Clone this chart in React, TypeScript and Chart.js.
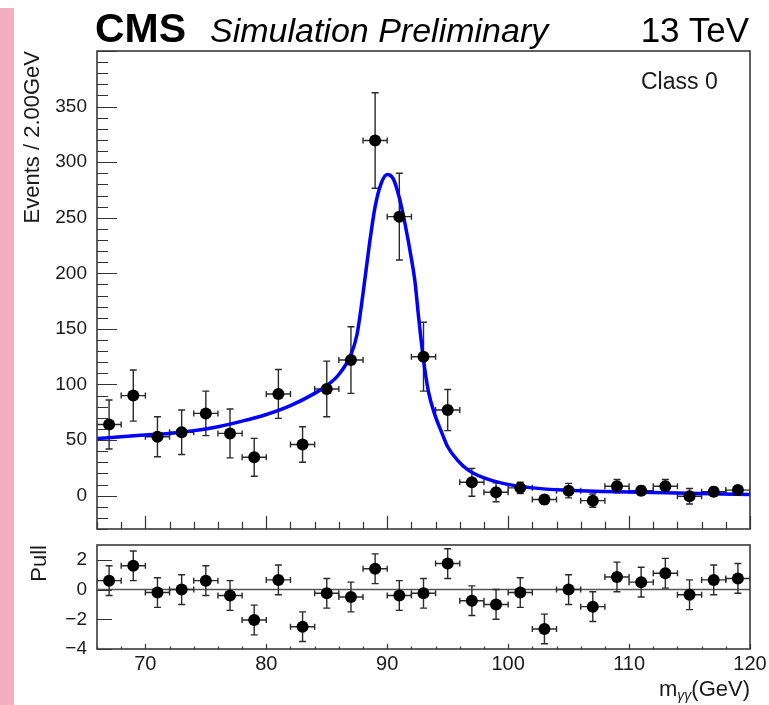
import React, { useEffect, useRef } from "react";
import { Chart, registerables } from "chart.js";

Chart.register(...registerables);

// ---------- data ----------
const massBins = [67, 69, 71, 73, 75, 77, 79, 81, 83, 85, 87, 89, 91, 93, 95, 97, 99, 101, 103, 105, 107, 109, 111, 113, 115, 117, 119];
const events = [64, 90, 53, 57, 74, 56, 34.5, 91.5, 46, 96, 122, 319.5, 251, 125, 77, 12, 3, 7, -3.5, 4.5, -4.5, 8.5, 4.5, 8.5, -0.5, 3.5, 5];
const eventErrors = [22, 23, 18, 20, 20, 22, 17, 22, 16, 25, 30, 43, 39, 31, 18.5, 12.5, 8.5, 5, 4, 6.5, 6, 6, 4, 6, 7, 4, 4];
const pulls = [0.6, 1.6, -0.2, 0.0, 0.6, -0.4, -2.05, 0.65, -2.5, -0.25, -0.5, 1.4, -0.4, -0.25, 1.75, -0.75, -1.0, -0.2, -2.65, 0.0, -1.15, 0.85, 0.5, 1.1, -0.35, 0.65, 0.75];
const pullErrors = [1, 1, 1, 1, 1, 1, 1, 1, 1, 1, 1, 1, 1, 1, 1, 1, 1, 1, 1, 1, 1, 1, 1, 1, 1, 1, 1];
const binHalfWidth = 1;

const fitMass = [66, 68, 70, 72, 74, 76, 78, 80, 82, 84, 85, 86, 87, 87.5, 88, 88.5, 89, 89.5, 90, 90.5, 91, 91.5, 92, 92.3, 92.6, 93, 93.4, 93.9, 94.5, 95, 95.8, 96.7, 98, 99.4, 102, 105, 108, 113, 120];
const fitEvents = [51.3, 53, 54.5, 56, 58.5, 62, 67, 73, 81, 92, 99, 109, 127, 145, 182, 224, 260, 281, 289, 285, 268, 243, 213, 192, 160, 122, 94, 74, 57, 44, 32, 23, 16, 11.5, 7, 4.8, 3.8, 2.5, 1];

const eventTicks = [0, 50, 100, 150, 200, 250, 300, 350];
const pullTicks = [-4, -2, 0, 2];
const massTicks = [70, 80, 90, 100, 110, 120];

// ---------- style ----------
const FONT = "'Liberation Sans', Arial, Helvetica, sans-serif";
const TEXT = "#1a1a1a";

type TickSpec = { step: number; len: number };
type FrameCfg = {
  xMajor: TickSpec; xMinor: TickSpec;
  yMajor: TickSpec; yMinor: TickSpec | null;
  zeroLine: boolean;
};

function makePlugin(cfg: FrameCfg) {
  return {
    id: "frameAndErrors",
    beforeDatasetsDraw(chart: any) {
      const { ctx, chartArea: a, scales } = chart;
      const xs = scales.x, ys = scales.y;
      ctx.save();
      ctx.beginPath();
      ctx.rect(a.left, a.top, a.right - a.left, a.bottom - a.top);
      ctx.clip();
      if (cfg.zeroLine) {
        const y0 = ys.getPixelForValue(0);
        ctx.strokeStyle = "#555";
        ctx.lineWidth = 1.5;
        ctx.beginPath();
        ctx.moveTo(a.left, y0);
        ctx.lineTo(a.right, y0);
        ctx.stroke();
      }
      chart.data.datasets.forEach((ds: any) => {
        if (!ds.errY) return;
        ctx.strokeStyle = "#2a2a2a";
        ctx.lineWidth = 1.4;
        ds.data.forEach((p: any, i: number) => {
          const e = ds.errY[i];
          const px = xs.getPixelForValue(p.x);
          const py = ys.getPixelForValue(p.y);
          const yt = ys.getPixelForValue(p.y + e);
          const yb = ys.getPixelForValue(p.y - e);
          const xl = xs.getPixelForValue(p.x - ds.errX);
          const xr = xs.getPixelForValue(p.x + ds.errX);
          ctx.beginPath();
          ctx.moveTo(px, yt); ctx.lineTo(px, yb);
          ctx.moveTo(px - 3.5, yt); ctx.lineTo(px + 3.5, yt);
          ctx.moveTo(px - 3.5, yb); ctx.lineTo(px + 3.5, yb);
          ctx.moveTo(xl, py); ctx.lineTo(xr, py);
          ctx.moveTo(xl, py - 3); ctx.lineTo(xl, py + 3);
          ctx.moveTo(xr, py - 3); ctx.lineTo(xr, py + 3);
          ctx.stroke();
        });
      });
      ctx.restore();
    },
    afterDraw(chart: any) {
      const { ctx, chartArea: a, scales } = chart;
      const xs = scales.x, ys = scales.y;
      ctx.save();
      ctx.strokeStyle = "#333";
      ctx.lineWidth = 1.2;
      const ticksFor = (min: number, max: number, step: number) => {
        const out: number[] = [];
        const start = Math.ceil(min / step - 1e-9) * step;
        for (let v = start; v <= max + 1e-9; v += step) out.push(v);
        return out;
      };
      ctx.beginPath();
      // y ticks
      const yMaj = cfg.yMajor.step;
      if (cfg.yMinor) {
        ticksFor(ys.min, ys.max, cfg.yMinor.step).forEach((v) => {
          const isMaj = Math.abs(v / yMaj - Math.round(v / yMaj)) < 1e-6;
          const len = isMaj ? cfg.yMajor.len : cfg.yMinor!.len;
          const y = Math.round(ys.getPixelForValue(v)) + 0.5;
          ctx.moveTo(a.left, y); ctx.lineTo(a.left + len, y);
        });
      } else {
        ticksFor(ys.min, ys.max, yMaj).forEach((v) => {
          const y = Math.round(ys.getPixelForValue(v)) + 0.5;
          ctx.moveTo(a.left, y); ctx.lineTo(a.left + cfg.yMajor.len, y);
        });
      }
      // x ticks
      const xMaj = cfg.xMajor.step;
      ticksFor(xs.min, xs.max, cfg.xMinor.step).forEach((v) => {
        const isMaj = Math.abs(v / xMaj - Math.round(v / xMaj)) < 1e-6;
        const len = isMaj ? cfg.xMajor.len : cfg.xMinor.len;
        const x = Math.round(xs.getPixelForValue(v)) + 0.5;
        ctx.moveTo(x, a.bottom); ctx.lineTo(x, a.bottom - len);
      });
      ctx.stroke();
      // frame
      ctx.strokeStyle = "#3a3a3a";
      ctx.lineWidth = 1.6;
      ctx.strokeRect(a.left, a.top, a.right - a.left, a.bottom - a.top);
      ctx.restore();
    },
  };
}

function fmt(v: number) {
  return v < 0 ? "\u2212" + String(Math.abs(v)) : String(v);
}

export default function App() {
  const mainRef = useRef<HTMLCanvasElement | null>(null);
  const pullRef = useRef<HTMLCanvasElement | null>(null);

  useEffect(() => {
    const mainChart = new Chart(mainRef.current!, {
      type: "scatter",
      data: {
        datasets: [
          {
            label: "data",
            data: massBins.map((m, i) => ({ x: m, y: events[i] })),
            errY: eventErrors,
            errX: binHalfWidth,
            pointRadius: 6,
            pointBackgroundColor: "#000",
            pointBorderWidth: 0,
            showLine: false,
            order: 0,
          } as any,
          {
            label: "fit",
            data: fitMass.map((m, i) => ({ x: m, y: fitEvents[i] })),
            showLine: true,
            borderColor: "#0000ff",
            borderWidth: 3.5,
            pointRadius: 0,
            cubicInterpolationMode: "monotone",
            order: 1,
          } as any,
        ],
      },
      options: {
        animation: false,
        responsive: false,
        maintainAspectRatio: false,
        layout: { padding: { left: 0, right: 19, top: 51, bottom: 11 } },
        plugins: { legend: { display: false }, tooltip: { enabled: false } },
        scales: {
          x: {
            type: "linear",
            min: 66,
            max: 120,
            ticks: { display: false },
            grid: { display: false, drawTicks: false },
            border: { display: false },
            afterFit: (s: any) => { s.height = 0; s.paddingLeft = 0; s.paddingRight = 0; },
          },
          y: {
            type: "linear",
            min: -30,
            max: 400,
            afterBuildTicks: (s: any) => { s.ticks = eventTicks.map((v) => ({ value: v })); },
            ticks: {
              autoSkip: false,
              font: { family: FONT, size: 19 },
              color: TEXT,
              padding: 10,
              callback: (v: any) => fmt(Number(v)),
            },
            grid: { display: false, drawTicks: false },
            border: { display: false },
            title: {
              display: true,
              text: "Events / 2.00GeV",
              align: "end",
              color: TEXT,
              font: { family: FONT, size: 22 },
              padding: { top: 20, bottom: 0 },
            },
            afterFit: (s: any) => { s.width = 97; s.paddingTop = 0; s.paddingBottom = 0; },
          },
        },
      } as any,
      plugins: [
        makePlugin({
          xMajor: { step: 10, len: 13 },
          xMinor: { step: 2, len: 7 },
          yMajor: { step: 50, len: 20 },
          yMinor: { step: 10, len: 11 },
          zeroLine: false,
        }),
      ],
    });

    const pullChart = new Chart(pullRef.current!, {
      type: "scatter",
      data: {
        datasets: [
          {
            label: "pull",
            data: massBins.map((m, i) => ({ x: m, y: pulls[i] })),
            errY: pullErrors,
            errX: binHalfWidth,
            pointRadius: 6,
            pointBackgroundColor: "#000",
            pointBorderWidth: 0,
            showLine: false,
          } as any,
        ],
      },
      options: {
        animation: false,
        responsive: false,
        maintainAspectRatio: false,
        layout: { padding: { left: 0, right: 19, top: 15, bottom: 0 } },
        plugins: { legend: { display: false }, tooltip: { enabled: false } },
        scales: {
          x: {
            type: "linear",
            min: 66,
            max: 120,
            afterBuildTicks: (s: any) => { s.ticks = massTicks.map((v) => ({ value: v })); },
            ticks: {
              autoSkip: false,
              maxRotation: 0,
              font: { family: FONT, size: 20 },
              color: TEXT,
              padding: 3,
              callback: (v: any) => fmt(Number(v)),
            },
            grid: { display: false, drawTicks: false },
            border: { display: false },
            afterFit: (s: any) => { s.height = 56; s.paddingLeft = 0; s.paddingRight = 0; },
          },
          y: {
            type: "linear",
            min: -4,
            max: 3,
            afterBuildTicks: (s: any) => { s.ticks = pullTicks.map((v) => ({ value: v })); },
            ticks: {
              autoSkip: false,
              font: { family: FONT, size: 19 },
              color: TEXT,
              padding: 10,
              callback: (v: any) => fmt(Number(v)),
            },
            grid: { display: false, drawTicks: false },
            border: { display: false },
            title: {
              display: true,
              text: "Pull",
              align: "end",
              color: TEXT,
              font: { family: FONT, size: 22 },
              padding: { top: 27, bottom: 0 },
            },
            afterFit: (s: any) => { s.width = 97; s.paddingTop = 0; s.paddingBottom = 0; },
          },
        },
      } as any,
      plugins: [
        makePlugin({
          xMajor: { step: 10, len: 5 },
          xMinor: { step: 2, len: 2.5 },
          yMajor: { step: 2, len: 15 },
          yMinor: null,
          zeroLine: true,
        }),
      ],
    });

    return () => {
      mainChart.destroy();
      pullChart.destroy();
    };
  }, []);

  const abs = (o: React.CSSProperties): React.CSSProperties => ({
    position: "absolute",
    margin: 0,
    lineHeight: 1,
    whiteSpace: "nowrap",
    fontFamily: FONT,
    color: "#000",
    ...o,
  });

  return (
    <div style={{ position: "absolute", left: 0, top: 0, width: 769, height: 705, background: "#fff", overflow: "hidden" }}>
      <div style={{ position: "absolute", left: 0, top: 8, width: 14, height: 697, background: "#f3aec4" }} />
      <canvas ref={mainRef} width={769} height={540} style={{ position: "absolute", left: 0, top: 0, width: 769, height: 540 }} />
      <canvas ref={pullRef} width={769} height={175} style={{ position: "absolute", left: 0, top: 530, width: 769, height: 175 }} />
      <div style={abs({ left: 95, top: 8, fontSize: 41, fontWeight: "bold" })}>CMS</div>
      <div style={abs({ left: 210, top: 13, fontSize: 34, fontStyle: "italic" })}>Simulation Preliminary</div>
      <div style={abs({ right: 20, top: 12, fontSize: 35 })}>13 TeV</div>
      <div style={abs({ left: 641, top: 70, fontSize: 23, color: TEXT })}>Class 0</div>
      <div style={abs({ right: 19, top: 678, fontSize: 22, color: TEXT })}>
        m<sub style={{ fontSize: 14, verticalAlign: "-4px", fontStyle: "italic" }}>γγ</sub>(GeV)
      </div>
    </div>
  );
}
